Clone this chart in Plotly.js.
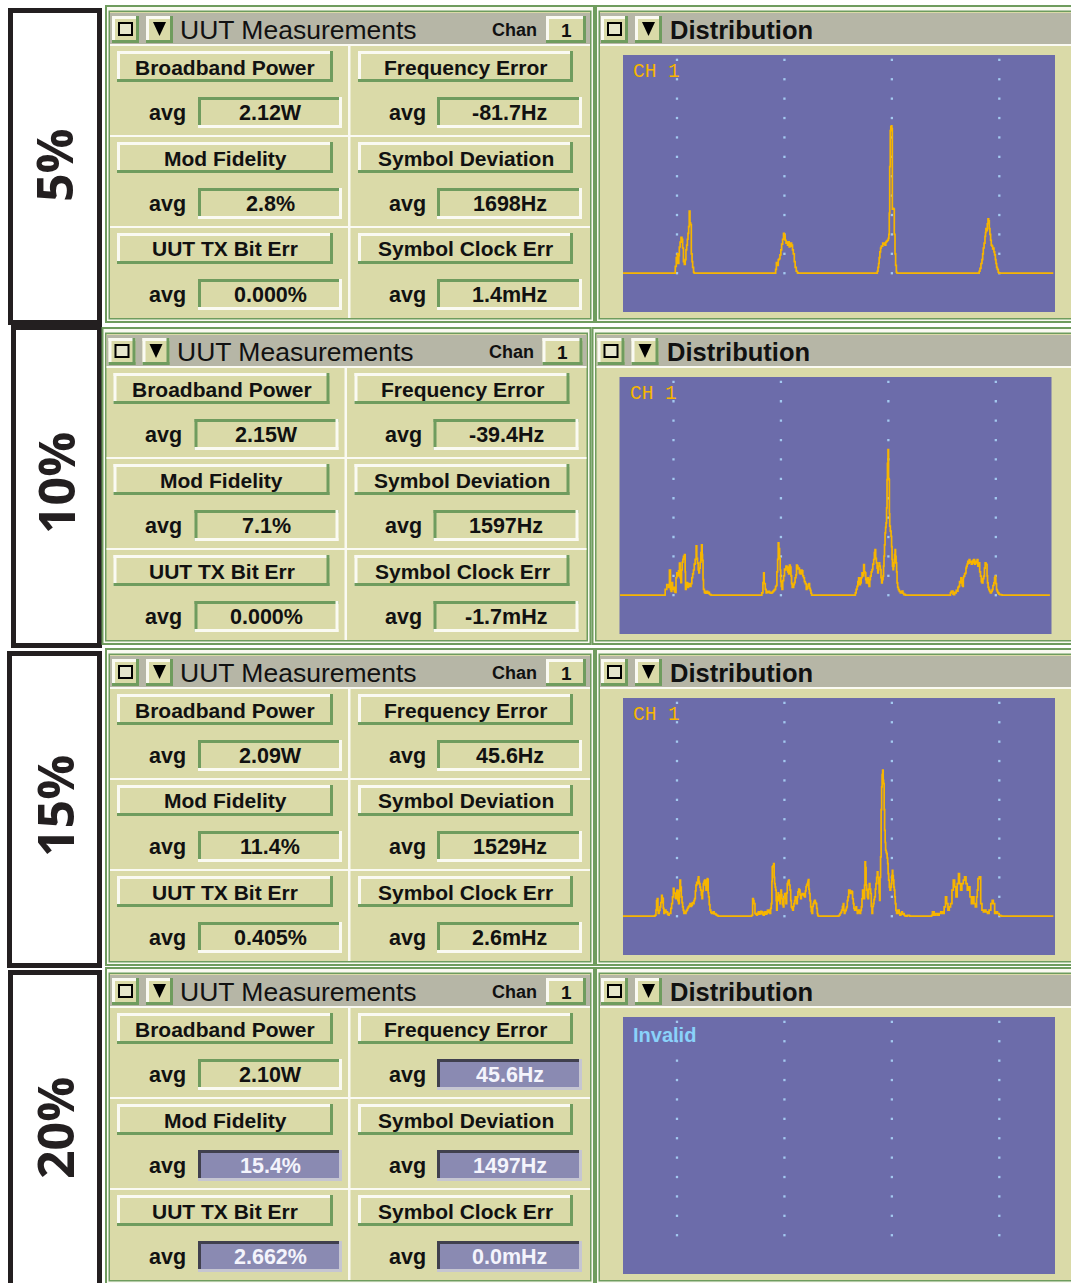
<!DOCTYPE html>
<html><head><meta charset="utf-8">
<script src="https://cdn.plot.ly/plotly-3.0.1.min.js"></script>
<style>html,body{margin:0;padding:0;background:#fff}#chart{width:1071px;height:1283px}</style>
</head><body><div id="chart"></div>
<script>
// ---------------- DATA ----------------
const percentLabels = ['5%', '10%', '15%', '20%'];
const measureNames = [['Broadband Power', 'Frequency Error'], ['Mod Fidelity', 'Symbol Deviation'], ['UUT TX Bit Err', 'Symbol Clock Err']];
const broadbandPower = ['2.12W', '2.15W', '2.09W', '2.10W'];
const frequencyError = ['-81.7Hz', '-39.4Hz', '45.6Hz', '45.6Hz'];
const modFidelity = ['2.8%', '7.1%', '11.4%', '15.4%'];
const symbolDeviation = ['1698Hz', '1597Hz', '1529Hz', '1497Hz'];
const txBitErr = ['0.000%', '0.000%', '0.405%', '2.662%'];
const symbolClockErr = ['1.4mHz', '-1.7mHz', '2.6mHz', '0.0mHz'];
const invalidCells = [[], [], [], ['Frequency Error', 'Mod Fidelity', 'Symbol Deviation', 'UUT TX Bit Err', 'Symbol Clock Err']];
const channelLabel = 'CH 1';
const invalidLabel = 'Invalid';
const gridHz = [-1800, -600, 600, 1800];
const gridLevels = [0, 1, 2, 3, 4, 5, 6, 7, 8, 9, 10, 11];

// distribution [deviation Hz, count] for each modulation level
const dist5 = [[-2403,0],[-1830,0],[-1819,0.35],[-1808,0.8],[-1797,1.0],[-1789,0.5],[-1780,0.9],[-1774,1.35],[-1765,1.6],[-1755,1.85],[-1745,1.75],[-1737,1.3],[-1728,0.6],[-1718,0.45],[-1708,0.7],[-1700,1.2],[-1692,1.45],[-1684,1.75],[-1677,2.05],[-1670,2.4],[-1663,3.2],[-1655,2.6],[-1648,2.5],[-1640,1.0],[-1632,0.6],[-1625,0.3],[-1615,0.05],[-1608,0],
 [-706,0],[-698,0.2],[-690,0.55],[-680,0.4],[-669,0.7],[-658,0.75],[-650,0.95],[-640,1.2],[-631,1.5],[-620,1.75],[-610,2.05],[-601,1.95],[-592,1.7],[-582,1.55],[-575,1.6],[-565,1.45],[-557,1.62],[-547,1.35],[-538,1.4],[-528,1.55],[-520,1.45],[-510,1.2],[-501,1.0],[-490,0.6],[-480,0.3],[-468,0.1],[-455,0.02],[-448,0],
 [430,0],[437,0.1],[445,0.3],[452,0.5],[458,0.8],[466,1.1],[474,1.3],[482,1.4],[490,1.4],[498,1.55],[506,1.5],[515,1.55],[523,1.45],[532,1.6],[541,1.65],[550,1.7],[560,1.8],[566,2.0],[571,3.1],[576,5.5],[582,7.35],[588,7.55],[594,7.6],[600,7.45],[605,3.3],[612,3.35],[620,3.3],[627,2.0],[635,1.0],[642,0.4],[650,0.05],[657,0],
 [1565,0],[1575,0.1],[1584,0.25],[1595,0.5],[1606,0.7],[1614,1.0],[1621,1.3],[1630,1.55],[1640,1.9],[1646,2.1],[1651,2.3],[1658,2.2],[1666,2.55],[1674,2.8],[1681,2.7],[1688,2.3],[1695,2.0],[1703,1.7],[1710,1.45],[1718,1.4],[1726,1.25],[1733,1.3],[1740,1.1],[1748,0.95],[1756,0.7],[1763,0.5],[1770,0.3],[1778,0.2],[1788,0.05],[1796,0],[2403,0]];

const dist10 = [[-2397,0],[-1905,0],[-1893,0.3],[-1875,0.55],[-1855,0.4],[-1845,1.3],[-1834,0.3],[-1826,0.2],[-1819,0.65],[-1810,0.3],[-1800,0.4],[-1790,0.2],[-1782,0.15],[-1772,0.9],[-1763,1.15],[-1754,1.0],[-1744,1.25],[-1733,1.65],[-1726,0.9],[-1718,0.65],[-1710,1.3],[-1703,1.7],[-1695,1.85],[-1688,2.0],[-1677,2.1],[-1670,1.2],[-1666,0.3],[-1658,0.5],[-1651,0.65],[-1642,0.4],[-1633,0.45],[-1624,0.6],[-1614,0.45],[-1605,0.6],[-1595,0.9],[-1586,1.1],[-1577,1.3],[-1568,1.6],[-1558,1.85],[-1547,2.55],[-1540,1.9],[-1532,1.65],[-1524,1.3],[-1517,1.15],[-1510,1.4],[-1502,1.7],[-1494,2.2],[-1487,2.6],[-1480,2.1],[-1476,1.8],[-1470,0.8],[-1465,0.3],[-1455,0.15],[-1446,0.1],[-1436,0.2],[-1428,0.2],[-1418,0.1],[-1409,0.15],[-1399,0.05],[-1390,0.03],[-1380,0],
 [-820,0],[-813,0.12],[-801,0.65],[-793,1.15],[-787,0.6],[-775,0.3],[-765,0.12],[-757,0.15],[-747,0.2],[-738,0.2],[-728,0.12],[-719,0.15],[-710,0.1],[-701,0.15],[-690,0.2],[-680,0.25],[-670,0.3],[-660,0.45],[-652,0.5],[-645,1.2],[-637,1.85],[-630,2.7],[-623,2.4],[-615,1.9],[-608,1.3],[-602,0.7],[-596,0.45],[-588,0.3],[-580,0.75],[-570,1.0],[-560,1.35],[-552,1.3],[-544,1.5],[-533,1.45],[-524,1.2],[-514,1.1],[-505,1.55],[-496,1.45],[-488,1.0],[-481,0.6],[-474,0.4],[-466,0.4],[-458,0.55],[-451,0.65],[-442,0.9],[-432,1.05],[-426,1.55],[-418,1.5],[-410,1.35],[-403,1.4],[-394,1.15],[-384,1.1],[-375,1.3],[-365,1.25],[-356,1.0],[-347,0.9],[-338,0.7],[-328,0.6],[-317,0.3],[-310,0.35],[-302,0.45],[-295,0.55],[-287,0.6],[-280,0.35],[-272,0.25],[-265,0.1],[-257,0],
 [225,0],[231,0.12],[240,0.3],[250,0.46],[259,0.7],[268,0.89],[278,0.55],[287,0.64],[296,0.9],[306,1.15],[315,1.0],[324,1.58],[332,1.2],[339,1.15],[347,0.8],[354,0.64],[362,0.85],[369,0.89],[377,0.6],[384,0.46],[392,0.8],[399,0.98],[408,1.2],[417,1.32],[426,1.6],[436,1.84],[444,2.2],[451,2.35],[458,1.9],[466,1.67],[474,1.4],[481,1.15],[488,1.5],[496,1.67],[503,1.5],[510,1.32],[518,0.9],[525,0.64],[532,0.8],[540,0.98],[546,1.5],[551,2.01],[557,2.6],[563,3.21],[569,3.5],[574,3.73],[580,4.5],[585,5.96],[590,6.8],[596,7.51],[602,6.0],[607,5.96],[611,4.2],[615,3.56],[622,3.3],[630,3.04],[636,2.5],[641,1.84],[646,1.5],[652,1.32],[658,1.5],[663,1.67],[669,2.1],[675,2.35],[680,2.0],[686,1.67],[692,1.2],[697,0.64],[704,0.4],[712,0.29],[722,0.2],[734,0.12],[744,0.15],[753,0.21],[762,0.1],[771,0.03],[780,0.05],[790,0],
 [1285,0],[1293,0.12],[1302,0.2],[1312,0.21],[1322,0.05],[1330,0.03],[1340,0.15],[1349,0.12],[1358,0.25],[1368,0.21],[1377,0.4],[1386,0.46],[1395,0.7],[1405,0.64],[1410,0.9],[1416,0.81],[1424,0.5],[1431,0.46],[1437,0.9],[1442,0.98],[1452,1.1],[1461,1.15],[1467,1.4],[1472,1.49],[1480,1.6],[1487,1.75],[1495,1.65],[1502,1.84],[1510,1.7],[1517,1.75],[1526,1.6],[1536,1.67],[1545,1.8],[1554,1.84],[1563,1.6],[1573,1.67],[1582,1.75],[1592,1.84],[1600,1.5],[1610,1.67],[1620,1.2],[1629,0.98],[1638,0.7],[1647,0.64],[1656,0.85],[1666,0.98],[1673,1.4],[1681,1.67],[1690,1.6],[1696,1.58],[1702,1.0],[1707,0.64],[1714,0.4],[1722,0.29],[1731,0.2],[1740,0.12],[1750,0.2],[1759,0.29],[1768,0.5],[1778,0.64],[1786,0.9],[1793,0.98],[1800,0.6],[1808,0.29],[1816,0.2],[1823,0.12],[1835,0.05],[1845,0.03],[1860,0.02],[1871,0],[2404,0]];

const dist15 = [[-2403,0],[-2050,0],[-2046,0.05],[-2035,0.31],[-2028,0.8],[-2020,0.91],[-2013,0.3],[-2009,0.14],[-2000,0.3],[-1990,0.48],[-1981,0.7],[-1972,1.08],[-1965,0.95],[-1960,0.91],[-1953,0.4],[-1946,0.14],[-1938,0.25],[-1931,0.31],[-1923,0.2],[-1916,0.22],[-1906,0.1],[-1897,0.05],[-1888,0.15],[-1878,0.14],[-1869,0.4],[-1860,0.65],[-1850,1.0],[-1841,1.43],[-1833,1.2],[-1826,1.17],[-1818,0.95],[-1811,0.91],[-1803,1.3],[-1797,1.34],[-1790,0.8],[-1782,0.65],[-1774,1.3],[-1767,1.86],[-1760,1.5],[-1752,1.0],[-1744,0.7],[-1737,0.48],[-1730,0.3],[-1722,0.14],[-1714,0.2],[-1707,0.14],[-1700,0.25],[-1692,0.31],[-1683,0.4],[-1674,0.48],[-1665,0.55],[-1655,0.65],[-1646,0.5],[-1637,0.57],[-1628,0.7],[-1618,0.65],[-1610,0.8],[-1603,0.91],[-1595,1.3],[-1588,1.6],[-1580,1.75],[-1573,1.68],[-1566,1.9],[-1562,2.03],[-1556,1.8],[-1551,1.68],[-1543,1.5],[-1536,1.34],[-1528,1.1],[-1521,0.91],[-1514,1.3],[-1506,1.68],[-1498,1.8],[-1491,1.86],[-1484,1.6],[-1476,1.34],[-1469,1.86],[-1462,1.94],[-1458,1.9],[-1452,1.2],[-1447,1.0],[-1440,0.6],[-1432,0.31],[-1422,0.2],[-1413,0.14],[-1403,0.2],[-1394,0.22],[-1385,0.12],[-1376,0.14],[-1366,0.08],[-1357,0.05],[-1348,0.03],[-1339,0],
 [-970,0],[-966,0.05],[-955,0.91],[-947,0.8],[-940,0.65],[-929,0.14],[-920,0.1],[-911,0.05],[-902,0.15],[-892,0.22],[-883,0.1],[-873,0.14],[-864,0.25],[-855,0.22],[-846,0.1],[-836,0.05],[-826,0.2],[-817,0.22],[-808,0.1],[-799,0.14],[-790,0.3],[-780,0.31],[-771,0.2],[-762,0.14],[-754,0.4],[-747,0.65],[-740,1.8],[-736,2.54],[-728,2.6],[-721,2.71],[-715,2.0],[-710,1.68],[-704,1.5],[-698,1.34],[-692,0.8],[-687,0.31],[-681,0.8],[-676,1.0],[-670,1.2],[-665,1.08],[-657,0.8],[-650,0.65],[-644,1.1],[-639,1.34],[-633,1.1],[-628,0.91],[-620,0.6],[-613,0.48],[-606,0.9],[-598,1.17],[-590,0.9],[-583,0.65],[-575,1.2],[-568,1.68],[-560,1.8],[-553,1.86],[-546,1.6],[-538,1.34],[-530,0.8],[-523,0.48],[-515,0.4],[-508,0.31],[-500,0.5],[-494,0.65],[-486,0.8],[-479,1.0],[-472,0.8],[-464,0.65],[-456,1.0],[-449,1.25],[-441,1.4],[-434,1.34],[-426,1.1],[-419,0.91],[-411,1.1],[-404,1.17],[-396,1.1],[-389,1.17],[-381,1.05],[-374,1.0],[-366,1.3],[-359,1.51],[-352,1.6],[-345,1.68],[-338,1.8],[-333,1.89],[-327,1.4],[-322,1.17],[-314,0.8],[-307,0.48],[-300,0.25],[-292,0.14],[-285,0.5],[-278,0.65],[-270,0.75],[-263,0.82],[-255,0.7],[-248,0.65],[-240,0.4],[-233,0.14],[-228,0.05],[-222,0],
 [0,0],[2,0.02],[10,0.05],[20,0.14],[30,0.2],[39,0.31],[48,0.5],[57,0.65],[63,0.3],[69,0.14],[76,0.25],[84,0.31],[90,0.4],[95,0.48],[102,0.8],[110,1.0],[118,1.34],[125,1.34],[132,1.2],[139,1.17],[146,1.3],[154,1.25],[161,0.9],[169,0.65],[176,0.4],[184,0.31],[191,0.4],[199,0.48],[206,0.3],[214,0.14],[221,0.25],[229,0.31],[236,0.2],[244,0.14],[251,0.3],[259,0.48],[266,0.9],[273,1.34],[280,1.0],[288,0.91],[295,1.6],[300,2.8],[306,2.5],[312,1.6],[318,1.34],[326,1.0],[333,0.91],[340,1.4],[348,1.68],[355,1.4],[363,1.17],[370,0.5],[378,0.14],[385,0.5],[393,0.65],[400,0.85],[407,1.0],[415,1.4],[422,1.68],[430,2.0],[437,2.29],[444,2.0],[452,1.68],[458,1.2],[463,0.82],[468,2.0],[474,3.06],[480,5.5],[486,6.67],[491,7.3],[497,7.53],[503,7.0],[508,6.84],[514,5.5],[519,4.43],[525,3.8],[530,3.4],[536,3.3],[541,3.23],[547,3.0],[553,2.71],[558,2.2],[564,1.86],[572,1.5],[579,1.34],[587,1.5],[594,1.68],[600,2.1],[605,2.37],[610,2.1],[616,1.86],[622,1.5],[627,1.34],[633,1.0],[638,0.65],[645,0.3],[653,0.14],[662,0.25],[672,0.31],[681,0.15],[690,0.05],[700,0.15],[709,0.22],[718,0.1],[728,0.14],[737,0.05],[746,0.02],[760,0],[772,0.05],[783,0.05],[795,0.02],[802,0],
 [1040,0],[1044,0.05],[1053,0.22],[1072,0.05],[1090,0.14],[1110,0.05],[1128,0.14],[1146,0.22],[1165,0.14],[1184,0.48],[1199,1.0],[1212,0.65],[1226,0.31],[1241,0.48],[1256,0.65],[1271,1.34],[1286,1.86],[1301,1.51],[1316,1.0],[1330,1.68],[1344,2.2],[1355,1.68],[1368,1.34],[1382,1.68],[1398,1.86],[1412,2.03],[1428,1.68],[1442,1.34],[1458,1.51],[1472,1.0],[1488,0.65],[1502,1.0],[1517,0.65],[1532,0.48],[1546,1.0],[1554,1.34],[1562,1.94],[1576,2.03],[1592,0.65],[1606,0.31],[1622,0.22],[1636,0.31],[1651,0.22],[1668,0.14],[1686,0.31],[1705,0.65],[1720,0.82],[1733,0.65],[1748,0.14],[1762,0.22],[1780,0.14],[1798,0.05],[1816,0.02],[1826,0],[2403,0]];

const dist20 = []; // invalid measurement: no distribution
const distributions = [dist5, dist10, dist15, dist20];

// ---------------- LAYOUT HELPERS ----------------
const W = 1071, H = 1283;
const C = {beige:'#dadaa8', gray:'#b6b6a6', green:'#6f9c5e', white:'#fafaf2', purple:'#6c6caa',
  orange:'#f7b500', dot:'#a3c9f0', ink:'#111111', bad:'#8a8ab2', badDark:'#40404e', badLight:'#c6c6d2', invalid:'#8ad2fa'};
const shapes = [], annotations = [];
const px = x => x / W, py = y => 1 - y / H;
function rect(x0, y0, x1, y1, fill) {
  shapes.push({type:'rect', xref:'paper', yref:'paper', x0:px(x0), x1:px(x1), y0:py(y0), y1:py(y1),
    fillcolor:fill, line:{width:0}, layer:'below'});
}
function outline(x0, y0, x1, y1, color, w, fill) {
  shapes.push({type:'rect', xref:'paper', yref:'paper', x0:px(x0), x1:px(x1), y0:py(y0), y1:py(y1),
    fillcolor:fill || 'rgba(0,0,0,0)', line:{color:color, width:w}, layer:'below'});
}
function bevel(x0, y0, x1, y1, fill, tl, br, b) {
  rect(x0, y0, x1, y1, fill);
  rect(x0, y0, x1, y0 + b, tl); rect(x0, y0, x0 + b, y1, tl);
  rect(x0, y1 - b, x1, y1, br); rect(x1 - b, y0, x1, y1, br);
}
function tri(x0, y0, x1, y1) {
  const xm = (x0 + x1) / 2;
  shapes.push({type:'path', xref:'paper', yref:'paper', layer:'below', fillcolor:'#000', line:{width:0},
    path:`M${px(x0)},${py(y0)} L${px(x1)},${py(y0)} L${px(xm)},${py(y1)} Z`});
}
function txt(x, y, text, size, opt) {
  opt = opt || {};
  annotations.push({xref:'paper', yref:'paper', x:px(x), y:py(y), text:text, showarrow:false,
    xanchor:opt.xa || 'center', yanchor:'middle', textangle:opt.angle || 0,
    font:{family:opt.family || 'Liberation Sans, Arial, sans-serif', size:size, color:opt.color || C.ink, weight:opt.weight || 700}});
}

const rowDy = [0, 322, 643, 962];
const rowDx = [0, -3.5, 0, 0];
const labelBoxes = [[10.5,10.5,99.5,322.5],[13.5,327.5,99.5,645.5],[9.5,653.5,99.5,965.5],[10.5,972.5,99.5,1300]];
const labelCenters = [[54,165],[56,483],[55,806],[55,1128]];
const btnX = [[117,333],[358,573]], valX = [[198,342],[437,582]], avgX = [167, 407];
const valueTable = [[broadbandPower, frequencyError], [modFidelity, symbolDeviation], [txBitErr, symbolClockErr]];

const traces = [];
const layout = {width:W, height:H, margin:{l:0,r:0,t:0,b:0}, paper_bgcolor:'#ffffff', plot_bgcolor:'rgba(0,0,0,0)',
  showlegend:false, shapes:shapes, annotations:annotations};

for (let r = 0; r < 4; r++) {
  const dx = rowDx[r], dy = rowDy[r];
  const X = v => v + dx, Y = v => v + dy;
  // percentage label box
  const lb = labelBoxes[r];
  outline(lb[0], lb[1], lb[2], lb[3], '#231f20', 5, '#ffffff');
  txt(labelCenters[r][0], labelCenters[r][1], percentLabels[r], 50, {angle:-90, family:'Open Sans, sans-serif', color:'#231f20', weight:700});

  // ---- middle panel frame
  rect(X(105), Y(5), X(595), Y(323), C.green);
  rect(X(107), Y(7), X(593), Y(321), C.white);
  rect(X(108.5), Y(10.5), X(591.5), Y(319.5), C.green);
  rect(X(110), Y(12), X(590), Y(318), C.beige);
  // ---- right panel frame
  rect(X(595), Y(5), 1075, Y(323), C.green);
  rect(X(597), Y(7), 1075, Y(321), C.white);
  rect(X(598.5), Y(10.5), 1075, Y(319.5), C.green);
  rect(X(600), Y(12), 1075, Y(318), C.beige);

  // ---- middle header
  rect(X(110), Y(13), X(590), Y(44), C.gray);
  rect(X(110), Y(44), X(590), Y(46), C.white);
  bevel(X(112), Y(16), X(139), Y(43), C.beige, C.white, C.green, 3);
  outline(X(119), Y(23), X(132), Y(35), '#000', 2, '#e6e6cc');
  bevel(X(146), Y(16), X(173), Y(43), C.beige, C.white, C.green, 3);
  tri(X(153), Y(22), X(166), Y(36));
  txt(X(178), Y(30), 'UUT Measurements', 26.5, {xa:'left', weight:400});
  txt(X(539), Y(30), 'Chan', 18, {xa:'right'});
  bevel(X(546), Y(16), X(586), Y(43), C.beige, C.white, C.green, 3);
  txt(X(566), Y(30), '1', 19);

  // cell dividers
  rect(X(348), Y(46), X(350.5), Y(318), C.white);
  rect(X(110), Y(135), X(590), Y(137), C.white);
  rect(X(110), Y(226), X(590), Y(228), C.white);

  // cells
  for (let i = 0; i < 3; i++) {
    for (let j = 0; j < 2; j++) {
      const name = measureNames[i][j];
      const val = valueTable[i][j][r];
      const by = 51 + 91 * i, vy = 97 + 91 * i;
      bevel(X(btnX[j][0]), Y(by), X(btnX[j][1]), Y(by + 31), C.beige, C.white, C.green, 3);
      txt(X((btnX[j][0] + btnX[j][1]) / 2), Y(by + 16), name, 21);
      const bad = invalidCells[r].indexOf(name) >= 0;
      if (bad) bevel(X(valX[j][0]), Y(vy), X(valX[j][1]), Y(vy + 31), C.bad, C.badDark, C.badLight, 3);
      else bevel(X(valX[j][0]), Y(vy), X(valX[j][1]), Y(vy + 31), C.beige, C.green, C.white, 3);
      txt(X(avgX[j]), Y(vy + 16), 'avg', 21.5);
      txt(X((valX[j][0] + valX[j][1]) / 2), Y(vy + 16), val, 21.5, {color: bad ? '#f4f4fc' : C.ink});
    }
  }

  // ---- right header
  rect(X(600), Y(13), 1075, Y(44), C.gray);
  rect(X(600), Y(44), 1075, Y(46), C.white);
  bevel(X(601), Y(16), X(628), Y(43), C.beige, C.white, C.green, 3);
  outline(X(608), Y(23), X(621), Y(35), '#000', 2, '#e6e6cc');
  bevel(X(635), Y(16), X(662), Y(43), C.beige, C.white, C.green, 3);
  tri(X(642), Y(22), X(655), Y(36));
  txt(X(668), Y(30), 'Distribution', 25.5, {xa:'left'});

  // plot area
  const p0 = X(623), p1 = X(1055), q0 = Y(55), q1 = Y(312);
  rect(p0, q0, p1, q1, C.purple);
  const sfx = r === 0 ? '' : String(r + 1);
  layout['xaxis' + sfx] = {domain:[px(p0), px(p1)], range:[-2403, 2422], visible:false, fixedrange:true, anchor:'y' + sfx};
  layout['yaxis' + sfx] = {domain:[py(q1), py(q0)], range:[-2.0, 11.25], visible:false, fixedrange:true, anchor:'x' + sfx};

  // dotted graticule
  const gx = [], gy = [];
  gridHz.forEach(h => gridLevels.forEach(l => { gx.push(h); gy.push(l); }));
  traces.push({type:'scatter', mode:'markers', x:gx, y:gy, xaxis:'x' + sfx, yaxis:'y' + sfx,
    marker:{symbol:'square', size:2.3, color:C.dot, line:{width:0}}, hoverinfo:'skip'});

  const d = distributions[r];
  if (d.length) {
    traces.push({type:'scatter', mode:'lines', x:d.map(p => p[0]), y:d.map(p => p[1]), xaxis:'x' + sfx, yaxis:'y' + sfx,
      line:{color:C.orange, width:1.7, shape:'hv'}, hoverinfo:'skip'});
    txt(X(631), Y(72), channelLabel, 19.5, {xa:'left', family:'Liberation Mono, Courier New, monospace', color:C.orange, weight:400});
  } else {
    txt(X(631), Y(73), invalidLabel, 20, {xa:'left', color:C.invalid});
  }
}

Plotly.newPlot('chart', traces, layout, {staticPlot:true, displayModeBar:false});
</script>
</body></html>
